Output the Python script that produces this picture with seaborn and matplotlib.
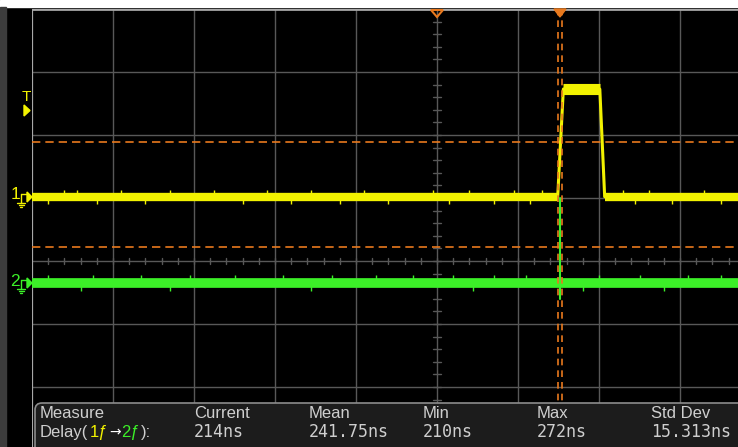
import numpy as np
import pandas as pd
import matplotlib
matplotlib.use("Agg")
import matplotlib.pyplot as plt
import seaborn as sns
from matplotlib.patches import FancyBboxPatch, Rectangle, Polygon
from matplotlib.transforms import IdentityTransform

# Data (screen divisions: x 0 = trigger point, y 0 = centre line)
ch1_t = [-5.0, 1.49, 1.56, 2.01, 2.07, 3.75]
ch1_v = [1.02, 1.02, 2.73, 2.73, 1.02, 1.02]
ch2_t = [-5.0, 3.75]
ch2_v = [-0.35, -0.35]
ch2_glitch_t = [1.52, 1.52]
ch2_glitch_v = [1.0, -0.6]

# hand-picked noise spikes
ch1_spikes_up = [-4.6, -4.45, -3.9, -3.3, -2.75, -2.1, -1.55, -0.9, -0.05, 0.4, 0.95, 1.3, 2.3, 2.62, 3.3]
ch1_spikes_dn = [-4.8, -4.2, -3.6, -2.4, -1.8, -1.2, -0.6, 0.15, 0.7, 1.15, 2.45, 2.9, 3.5]
ch2_spikes_up = [-4.8, -4.25, -3.65, -3.05, -2.5, -1.9, -1.3, -0.75, -0.3, 0.2, 0.7, 1.1, 2.0, 2.5, 3.1, 3.5]
ch2_spikes_dn = [-4.4, -3.3, -1.55, 0.45, 1.8, 2.8]

cursor_x = [1.49, 1.54]
cursor_y = [1.89, 0.22]

meas_label = "Measure"
meas_cols = ["Current", "Mean", "Min", "Max", "Std Dev"]
meas_vals = ["214ns", "241.75ns", "210ns", "272ns", "15.313ns"]

# Colours
YEL = "#f2f200"
GRN = "#3cf028"
ORG = "#e8791e"
GRID = "#585858"
TXT = "#cfcfcf"

W, H = 738, 447


def px(x):
    return (x - 437) / 81.0


def py(y):
    return (261 - y) / 63.0


sns.set_style("dark", {"axes.facecolor": "black", "figure.facecolor": "black"})
LAB = ["Liberation Sans", "DejaVu Sans"]

fig = plt.figure(figsize=(W / 100, H / 100), dpi=100)
fig.patch.set_facecolor("black")
fig.add_artist(Rectangle((0, 1 - 7 / H), 1, 7 / H, transform=fig.transFigure, color="white", zorder=0))
fig.add_artist(Rectangle((0, 0), 6 / W, 1 - 7 / H, transform=fig.transFigure, color="#3c3c3c", zorder=0))

ax = fig.add_axes([32 / W, 0, (W - 32) / W, (H - 9) / H])
ax.set_facecolor("black")
ax.set_xlim(-5, px(W))
ax.set_ylim(py(H), 4)
ax.set_xticks([])
ax.set_yticks([])
for s in ax.spines.values():
    s.set_visible(False)

# graticule
for gx in range(-4, 4):
    ax.axvline(gx, color=GRID, lw=1.0, zorder=1)
for gy in range(-2, 4):
    ax.axhline(gy, color=GRID, lw=1.0, zorder=1)
ax.axvline(-5, color="#a8a8a8", lw=1.6, zorder=1)
ax.axhline(4, color="#a8a8a8", lw=2.0, zorder=1)
for t in np.arange(-2.8, 4.0, 0.2):
    ax.plot([-0.045, 0.045], [t, t], color=GRID, lw=1.0, zorder=1)
for t in np.arange(-4.8, 3.8, 0.2):
    ax.plot([t, t], [-0.05, 0.05], color=GRID, lw=1.0, zorder=1)

# cursors
for cy in cursor_y:
    ax.axhline(cy, color=ORG, lw=1.2, ls=(0, (5, 3)), zorder=2)
for cx in cursor_x:
    ax.axvline(cx, color=ORG, lw=1.2, ls=(0, (4, 3)), zorder=5)

# traces: thin line for edges, thick band where the level is flat (noise)
ch1 = pd.DataFrame({"t": ch1_t, "v": ch1_v})
ch2 = pd.DataFrame({"t": ch2_t, "v": ch2_v})
sns.lineplot(data=ch2, x="t", y="v", sort=False, estimator=None, color=GRN, lw=7.0, ax=ax, zorder=3)
sns.lineplot(data=ch1, x="t", y="v", sort=False, estimator=None, color=YEL, lw=2.2, ax=ax, zorder=4)
for i in range(len(ch1_t) - 1):
    if ch1_v[i] == ch1_v[i + 1]:
        band = 6.0 if ch1_v[i] < 2 else 8.0
        ax.hlines(ch1_v[i], ch1_t[i], ch1_t[i + 1], color=YEL, lw=band, zorder=4)
ax.plot(ch2_glitch_t, ch2_glitch_v, color=GRN, lw=1.5, zorder=4)
ax.vlines(ch1_spikes_up, 1.02, 1.02 + 0.1, color=YEL, lw=1.0, zorder=4)
ax.vlines(ch1_spikes_dn, 1.02 - 0.12, 1.02, color=YEL, lw=1.0, zorder=4)
ax.vlines(ch2_spikes_up, -0.35, -0.35 + 0.12, color=GRN, lw=1.0, zorder=3)
ax.vlines(ch2_spikes_dn, -0.35 - 0.12, -0.35, color=GRN, lw=1.0, zorder=3)
ax.set_xlabel("")
ax.set_ylabel("")

# top markers (trigger / cursor position)
ax.add_patch(Polygon([(px(431), py(10)), (px(443), py(10)), (px(437), py(17))], closed=True,
                     fill=False, edgecolor=ORG, lw=1.5, clip_on=False, zorder=6))
ax.add_patch(Polygon([(px(554), py(9)), (px(566), py(9)), (px(560), py(17))], closed=True,
                     color=ORG, clip_on=False, zorder=6))

# channel markers on the left
fig.text(26 / W, 1 - 97 / H, "T", color=YEL, fontsize=11, ha="center", va="center", family=LAB)
fig.add_artist(Polygon([(24, H - 105), (24, H - 116), (30, H - 110.5)], closed=True, color=YEL,
                       transform=IdentityTransform()))


def chan_marker(label, y, col):
    fig.text(15 / W, 1 - (y - 2) / H, label, color=col, fontsize=12.5, ha="center", va="center", family=LAB)
    yy = H - y
    fig.add_artist(Polygon([(27, yy + 5), (27, yy - 5), (32, yy)], closed=True, color=col,
                           transform=IdentityTransform()))
    lines = [((21, 21), (yy + 3, yy - 6)), ((21, 27), (yy + 3, yy + 3)),
             ((17, 25), (yy - 6, yy - 6)), ((18.5, 23.5), (yy - 8, yy - 8)), ((20, 22), (yy - 10, yy - 10))]
    for lx, ly in lines:
        fig.add_artist(plt.Line2D(lx, ly, color=col, lw=1.0, transform=IdentityTransform()))


chan_marker("1", 197, YEL)
chan_marker("2", 283, GRN)

# measurement box
fig.add_artist(FancyBboxPatch((35, -10), W, 54, boxstyle="round,pad=0,rounding_size=7",
                              facecolor="#1c1c1c", edgecolor="#8c8c8c", lw=1.2,
                              transform=IdentityTransform(), zorder=8))


def ftext(x, y, s, col=TXT, fam=LAB, size=12):
    return fig.text(x / W, 1 - y / H, s, color=col, fontsize=size, ha="left", va="center",
                    family=fam, zorder=9)


renderer = fig.canvas.get_renderer()
ftext(40, 413, meas_label)
xpos = 40
for part, col, fam, size in [("Delay(", TXT, LAB, 12), ("1ƒ", YEL, LAB, 12),
                             ("→", "white", ["DejaVu Sans"], 10), ("2ƒ", GRN, LAB, 12),
                             ("):", TXT, LAB, 12)]:
    t = ftext(xpos, 432, part, col=col, fam=fam, size=size)
    xpos = t.get_window_extent(renderer).x1 + 1

col_x = [194, 309, 423, 537, 651]
for cx, name, val in zip(col_x, meas_cols, meas_vals):
    ftext(cx, 413, name)
    ftext(cx, 432, val, fam=["DejaVu Sans Mono"], size=12)

fig.savefig("out.png", dpi=100, facecolor=fig.get_facecolor())
